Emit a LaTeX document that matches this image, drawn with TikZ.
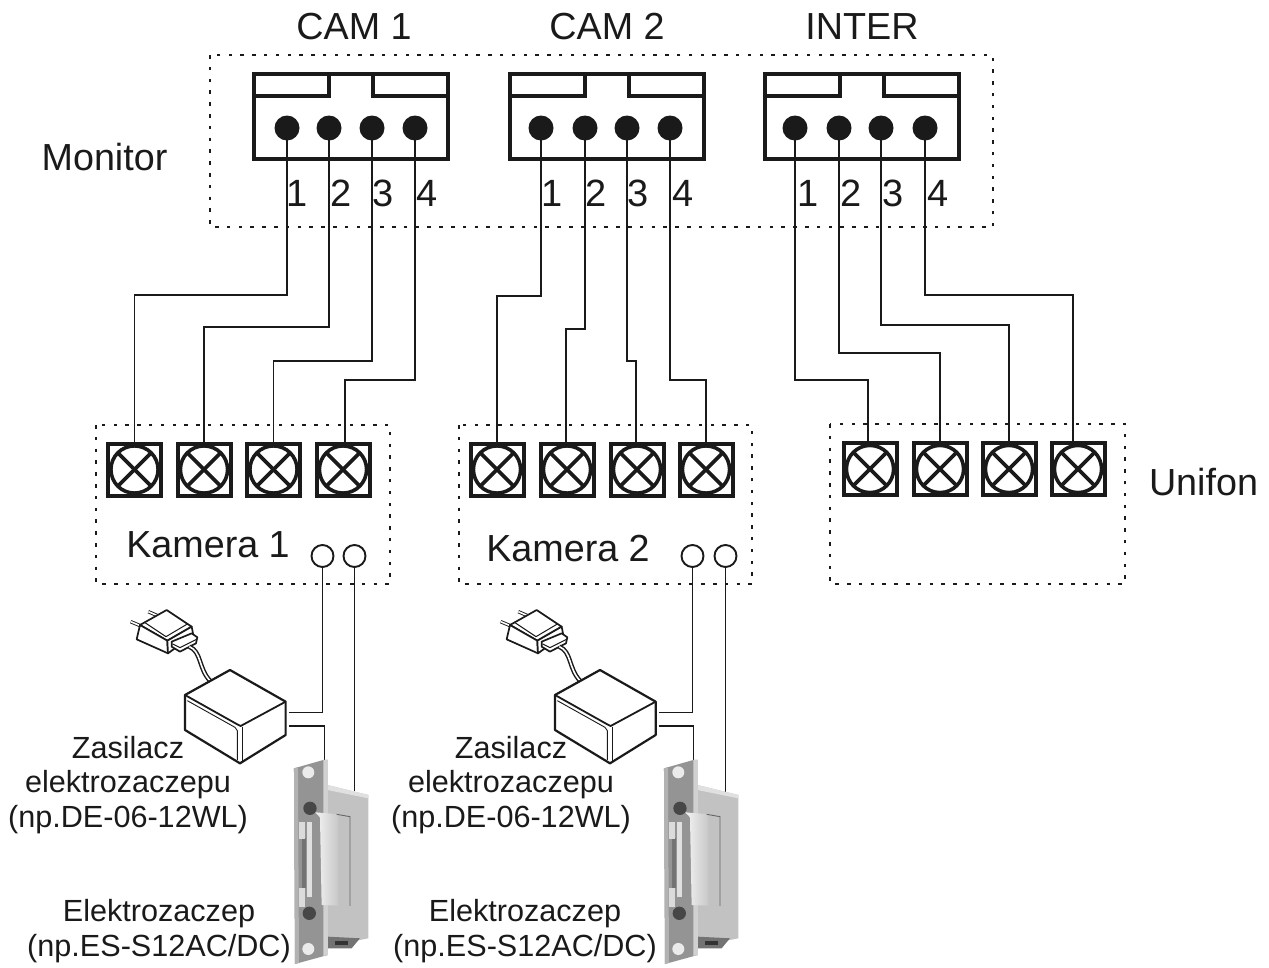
\documentclass[tikz,border=0pt]{standalone}
\usepackage{fontspec}
\setmainfont{Liberation Sans}
\definecolor{ink}{HTML}{1A1A1A}
\tikzset{
  x=1pt,y=-1pt,
  dotbox/.style={draw=ink,line width=2.2pt,dash pattern=on 3.5pt off 8.3pt},
  wire/.style={draw=ink,line width=1.9pt},
  pinhole/.style={circle,fill=ink,inner sep=0pt,minimum size=25pt},
  ring/.style={circle,draw=ink,line width=1.9pt,fill=white,inner sep=0pt,minimum size=22pt},
  screwbox/.style={draw=ink,line width=4pt,minimum width=53pt,minimum height=52pt,inner sep=0pt,
    path picture={
      \draw[ink,line width=3.6pt] (path picture bounding box.center) circle (23.6pt);
      \draw[ink,line width=3.6pt] ([shift={(-16.5pt,-16.5pt)}]path picture bounding box.center) -- ([shift={(16.5pt,16.5pt)}]path picture bounding box.center);
      \draw[ink,line width=3.6pt] ([shift={(-16.5pt,16.5pt)}]path picture bounding box.center) -- ([shift={(16.5pt,-16.5pt)}]path picture bounding box.center);
    }},
  bigl/.style={font=\fontsize{37.7}{38}\selectfont,text=ink,inner sep=0pt},
  numl/.style={font=\fontsize{38}{38}\selectfont,text=ink,inner sep=0pt},
  smalll/.style={font=\fontsize{30.6}{34.8}\selectfont,text=ink,inner sep=0pt,align=center},
  socket/.pic={
    \draw[ink,line width=3.6pt,line join=miter] (0,0) rectangle (194,85);
    \draw[ink,line width=3.6pt] (0,22) -- (75,22) -- (75,0);
    \draw[ink,line width=3.6pt] (119,0) -- (119,22) -- (194,22);
  },
  supply/.pic={
    \begin{scope}[x=.3333pt,y=-.3333pt,draw=ink,line width=1.5pt,line join=round]
      % plug prongs
      \draw[line width=3.4pt,ink] (122,125) -- (158,140);
      \draw[line width=3.4pt,ink] (175,95) -- (205,108);
      \draw[line width=1.6pt,white] (122,125) -- (158,140);
      \draw[line width=1.6pt,white] (175,95) -- (205,108);
      \draw[fill=white,line width=1.7pt] (150,135) -- (230,90) -- (305,140) -- (232,182) -- cycle;
      \draw[fill=white,line width=1.7pt] (150,135) -- (232,182) -- (234,220) -- (140,178) -- cycle;
      \draw[line width=1pt] (165,128) -- (228,170) -- (292,132);
      \draw[fill=white,line width=1.7pt] (232,182) -- (305,140) -- (310,165) -- (234,220) -- cycle;
      \draw[fill=white,line width=1.7pt] (245,185) -- (305,160) -- (322,172) -- (318,190) -- (270,215) -- (245,200) -- cycle;
      \draw[line width=1pt] (248,192) -- (270,203) -- (320,178);
      % cable
      \draw[line width=4.5pt,ink] (298,200) .. controls (335,215) and (325,265) .. (360,302);
      \draw[line width=1.6pt,white] (298,200) .. controls (335,215) and (325,265) .. (360,302);
      % box
      \draw[fill=white,line width=2.2pt] (285,345) -- (420,270) -- (587,365) -- (587,465) -- (450,550) -- (285,450) -- cycle;
      \draw[line width=1.8pt] (285,345) -- (440,432) -- (452,438) -- (587,365);
      \draw[line width=.9pt] (292,362) -- (435,442) -- (442,452) -- (442,540);
      \draw[line width=.9pt] (458,440) -- (458,545);
    \end{scope}
  },
  strike/.pic={
    \begin{scope}[x=.3333pt,y=-.3333pt]
      \fill[black!24] (712,615) -- (835,645) -- (835,1075) -- (712,1100) -- cycle;
      \fill[black!12] (712,615) -- (835,645) -- (835,655) -- (712,630) -- cycle;
      \fill[black!55] (712,1070) -- (810,1075) -- (785,1105) -- (712,1105) -- cycle;
      \fill[black!80] (735,1082) rectangle (775,1095);
      \fill[black!42] (612,565) -- (700,540) -- (714,540) -- (714,1125) -- (615,1152) -- cycle;
      \fill[black!30] (612,565) -- (624,562) -- (627,1149) -- (615,1152) -- cycle;
      \fill[black!18] (700,540) -- (714,540) -- (714,1125) -- (700,1128) -- cycle;
      \fill[black!8] (655,577) circle (18);
      \fill[black!72] (660,685) circle (20);
      \fill[black!72] (658,1000) circle (20);
      \fill[black!8] (655,1107) circle (18);
      \fill[black!55] (636,775) rectangle (648,925);
      \fill[black!14] (628,725) rectangle (645,778);
      \fill[black!14] (628,925) rectangle (645,980);
      \fill[black!12] (650,725) rectangle (666,950);
      \fill[black!24] (745,705) -- (780,710) -- (780,978) -- (745,977) -- cycle;
      \shade[left color=black!4,right color=black!22] (676,697) -- (745,703) -- (745,977) -- (695,975) -- (690,712) -- cycle;
      \draw[black!60,line width=.9pt] (740,703) -- (780,710) -- (780,978);
    \end{scope}
  },
}
\begin{document}
\begin{tikzpicture}
\useasboundingbox (0,0) rectangle (1269,967);
\fill[white] (0,0) rectangle (1269,967);
% dotted enclosures
\draw[dotbox] (210,55) rectangle (993,227);
\draw[dotbox] (96,425) rectangle (390,584);
\draw[dotbox] (459,425) rectangle (752,584);
\draw[dotbox] (830,424) rectangle (1125,584);
% sockets
\pic at (254,74) {socket};
\pic at (510,74) {socket};
\pic at (765,74) {socket};
% pins
\foreach \n/\x in {1/287,2/329,3/372,4/415}{\node[pinhole] (a\n) at (\x,128) {};}
\foreach \n/\x in {1/541,2/585,3/627,4/670}{\node[pinhole] (b\n) at (\x,128) {};}
\foreach \n/\x in {1/795,2/839,3/881,4/925}{\node[pinhole] (c\n) at (\x,128) {};}
% terminals
\foreach \n/\x in {1/134.5,2/204,3/273.5,4/343}{\node[screwbox] (ta\n) at (\x,469.5) {};}
\foreach \n/\x in {1/497,2/567,3/637,4/706}{\node[screwbox] (tb\n) at (\x,469.5) {};}
\foreach \n/\x in {1/870,2/940,3/1009,4/1078}{\node[screwbox] (tc\n) at (\x,469) {};}
% wires from the monitor to the terminals
\foreach \n/\y/\d in {1/295/0,2/327/0,3/361/0,4/380/2}{
  \draw[wire] (a\n.center) -- (a\n.center |- 0,\y) -| ([xshift=\d pt]ta\n.north);}
\foreach \n/\y/\d in {1/296/0,2/329/-1,3/361/-1,4/380/0}{
  \draw[wire] (b\n.center) -- (b\n.center |- 0,\y) -| ([xshift=\d pt]tb\n.north);}
\foreach \n/\y/\d in {1/380/-2,2/353/0,3/325/0,4/295/-5}{
  \draw[wire] (c\n.center) -- (c\n.center |- 0,\y) -| ([xshift=\d pt]tc\n.north);}
% rings
\node[ring] (ra1) at (322.5,556) {};
\node[ring] (ra2) at (354.5,556) {};
\node[ring] (rb1) at (692.5,556) {};
\node[ring] (rb2) at (725.5,556) {};
% power and strike
\coordinate (sa1) at (289,712.5);
\coordinate (sa2) at (289,725.7);
\coordinate (ea1) at (324.5,762);
\coordinate (ea2) at (355.7,791);
\coordinate (sb1) at (659,712.5);
\coordinate (sb2) at (659,725.7);
\coordinate (eb1) at (693.5,762);
\coordinate (eb2) at (725.5,793);
\draw[wire] (ra1.south) -- (ra1.south |- sa1) -- (sa1);
\draw[wire] (sa2) -| (ea1);
\draw[wire] (ra2.south) -- (ra2.south |- ea2);
\draw[wire] (rb1.south) -- (rb1.south |- sb1) -- (sb1);
\draw[wire] (sb2) -| (eb1);
\draw[wire] (rb2.south) -- (rb2.south |- eb2);
\pic at (90,580) {supply};
\pic at (460,580) {supply};
\pic at (90,580) {strike};
\pic at (460,580) {strike};
% labels
\node[bigl] (lc1) at (354,27) {CAM 1};
\node[bigl] (lc2) at (607,27) {CAM 2};
\node[bigl] (lc3) at (862,27) {INTER};
\node[bigl] (lm) at (104.5,157) {Monitor};
\node[bigl] (lu) at (1203.5,482) {Unifon};
\node[bigl] (lk1) at (208,545) {Kamera 1};
\node[bigl] (lk2) at (568,549) {Kamera 2};
\foreach \t/\x in {1/297,2/341,3/383,4/427,1/552,2/596,3/638,4/683,1/808,2/851,3/893,4/938}{
  \node[numl] at (\x,193) {\t};}
\node[smalll] (lz1) at (128,785) {Zasilacz\\elektrozaczepu\\(np.DE-06-12WL)};
\node[smalll] (lz2) at (511,785) {Zasilacz\\elektrozaczepu\\(np.DE-06-12WL)};
\node[smalll] (le1) at (159,931) {Elektrozaczep\\(np.ES-S12AC/DC)};
\node[smalll] (le2) at (525,931) {Elektrozaczep\\(np.ES-S12AC/DC)};
\end{tikzpicture}
\end{document}
